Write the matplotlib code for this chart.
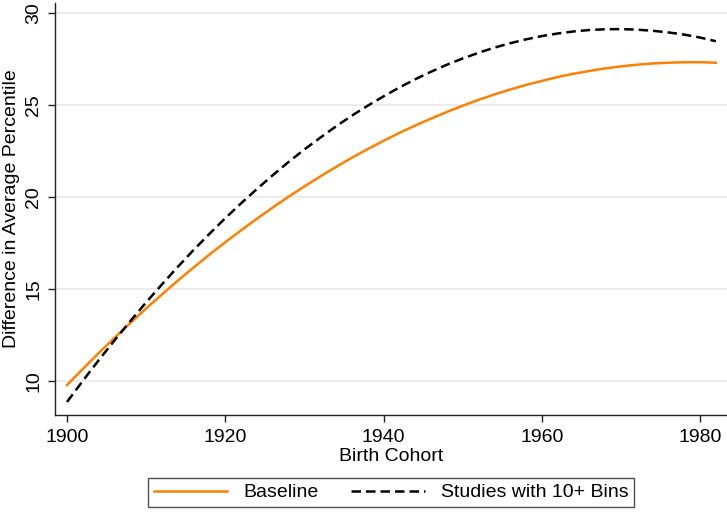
import matplotlib
matplotlib.use("Agg")
import matplotlib.pyplot as plt

# values, every 2 years
years = list(range(1900, 1983, 2))
baseline = [9.78, 10.66, 11.52, 12.35, 13.16, 13.95, 14.71, 15.46, 16.18, 16.88,
            17.55, 18.20, 18.83, 19.44, 20.03, 20.59, 21.13, 21.65, 22.15, 22.62,
            23.07, 23.50, 23.90, 24.28, 24.64, 24.98, 25.30, 25.59, 25.86, 26.11,
            26.33, 26.54, 26.72, 26.87, 27.01, 27.12, 27.21, 27.28, 27.32, 27.35,
            27.35, 27.32]
bins10 = [8.86, 10.01, 11.13, 12.21, 13.26, 14.28, 15.26, 16.21, 17.13, 18.01,
          18.86, 19.67, 20.45, 21.20, 21.92, 22.60, 23.24, 23.86, 24.44, 24.98,
          25.49, 25.97, 26.42, 26.83, 27.21, 27.55, 27.86, 28.14, 28.38, 28.59,
          28.77, 28.91, 29.02, 29.10, 29.14, 29.15, 29.12, 29.06, 28.97, 28.85,
          28.69, 28.49]
xticks = [1900, 1920, 1940, 1960, 1980]
yticks = [10, 15, 20, 25, 30]

plt.rcParams["font.family"] = ["Liberation Sans", "DejaVu Sans"]
fs = 14

fig = plt.figure(figsize=(7.27, 5.14), dpi=100)
ax = fig.add_axes([55 / 727, 99 / 514, 672 / 727, 412 / 514])

ax.plot(years, baseline, color="#FF8000", lw=1.8, label="Baseline", zorder=3)
ax.plot(years, bins10, color="black", lw=1.8, dashes=(3.8, 2.0),
        label="Studies with 10+ Bins", zorder=3)

ax.set_xlim(1898.48, 1983.41)
ax.set_ylim(8.15, 30.57)
ax.set_xticks(xticks)
ax.set_yticks(yticks)
ax.grid(axis="y", color="#E6E6E6", lw=1.1, zorder=0)
ax.grid(axis="x", visible=False)

for s in ["top", "right"]:
    ax.spines[s].set_visible(False)
for s in ["left", "bottom"]:
    ax.spines[s].set_linewidth(1.0)
    ax.spines[s].set_color("#222222")

ax.tick_params(axis="both", length=5.3, width=1.0, color="#222222",
               labelsize=fs)
ax.tick_params(axis="x", pad=4.5)
ax.tick_params(axis="y", pad=4)
for lab in ax.get_yticklabels():
    lab.set_rotation(90)
    lab.set_va("center")

ax.set_xlabel("Birth Cohort", fontsize=fs, labelpad=2)
ax.set_ylabel("Difference in Average Percentile", fontsize=fs)
ax.yaxis.set_label_coords(-0.052, 0.5)

leg = fig.legend(loc="upper center", bbox_to_anchor=(391 / 727, 1 - 478 / 514),
                 ncol=2, fontsize=fs, frameon=True, fancybox=False,
                 handlelength=3.8, handletextpad=0.8, columnspacing=1.7,
                 borderpad=0.3, borderaxespad=0)
leg.get_frame().set_edgecolor("#222222")
leg.get_frame().set_linewidth(1.0)

fig.savefig("out.png", dpi=100)
